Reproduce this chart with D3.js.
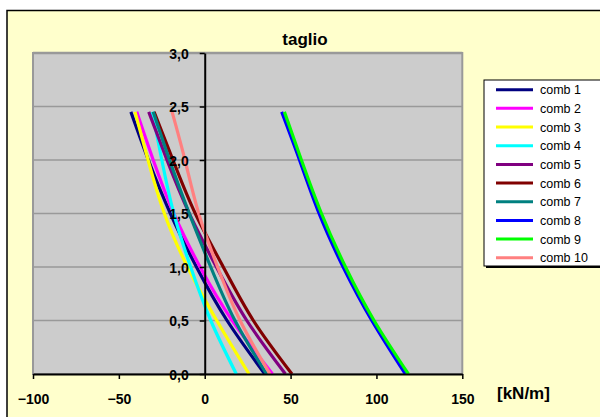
<!DOCTYPE html>
<html>
<head>
<meta charset="utf-8">
<script src="https://cdn.jsdelivr.net/npm/d3@7"></script>
<style>
  body { margin: 0; background: #fff; }
  svg { display: block; font-family: "Liberation Sans", Arial, sans-serif; }
</style>
</head>
<body>
<svg width="600" height="417"></svg>
<script>
// depth levels (m) and shear values (kN/m) per combination
const heights = [0, 0.5, 1.0, 1.5, 2.0, 2.45];
const comb1  = [35.0, 13.0, -4.8, -20.0, -32.8, -43.0];
const comb2  = [39.5, 16.0, -2.7, -18.0, -30.0, -39.6];
const comb3  = [25.8, 7.0, -10.0, -23.5, -33.0, -40.6];
const comb4  = [18.4, 3.5, -8.2, -18.0, -25.0, -30.5];
const comb5  = [47.0, 24.5, 6.8, -9.0, -22.0, -32.6];
const comb6  = [50.8, 28.3, 10.8, -5.5, -18.5, -29.5];
const comb7  = [36.0, 17.6, 3.5, -9.0, -20.5, -30.0];
const comb8  = [116.8, 97.3, 80.6, 66.6, 55.2, 44.8];
const comb9  = [118.6, 98.6, 82.0, 68.0, 56.3, 46.4];
const comb10 = [38.0, 20.6, 7.5, -3.5, -11.5, -19.0];

const seriesNames = ["comb 1", "comb 2", "comb 3", "comb 4", "comb 5",
                     "comb 6", "comb 7", "comb 8", "comb 9", "comb 10"];
const seriesValues = [comb1, comb2, comb3, comb4, comb5, comb6, comb7, comb8, comb9, comb10];
const seriesColors = ["#000080", "#ff00ff", "#ffff00", "#00ffff", "#800080",
                      "#800000", "#008080", "#0000ff", "#00ff00", "#ff8080"];

const xTicks = [-100, -50, 0, 50, 100, 150];
const yTicks = [0, 0.5, 1.0, 1.5, 2.0, 2.5, 3.0];

const plot = {left: 33, right: 462.3, top: 53, bottom: 374};

const svg = d3.select("svg");

// chart area
svg.append("rect")
    .attr("x", 7).attr("y", 10.5)
    .attr("width", 600).attr("height", 420)
    .attr("fill", "#ffffcc")
    .attr("stroke", "#000")
    .attr("stroke-width", 1.5);

const x = d3.scaleLinear().domain([-100, 150]).range([plot.left, plot.right]);
const y = d3.scaleLinear().domain([0, 3]).range([plot.bottom, plot.top]);

// plot area
svg.append("rect")
    .attr("x", plot.left).attr("y", plot.top)
    .attr("width", plot.right - plot.left)
    .attr("height", plot.bottom - plot.top)
    .attr("fill", "#cccccc")
    .attr("stroke", "#999")
    .attr("stroke-width", 2);

// gridlines
svg.append("g")
    .selectAll("line")
    .data(yTicks.filter(d => d > 0))
    .enter()
    .append("line")
    .attr("x1", plot.left).attr("x2", plot.right)
    .attr("y1", d => y(d)).attr("y2", d => y(d))
    .attr("stroke", "#999")
    .attr("stroke-width", d => d === 3 ? 2.5 : 1.5);

// title
svg.append("text")
    .attr("x", 305)
    .attr("y", 45)
    .attr("text-anchor", "middle")
    .attr("font-size", "17px")
    .attr("font-weight", "bold")
    .text("taglio");

// lines
const line = d3.line()
    .x(d => x(d[0]))
    .y(d => y(d[1]))
    .curve(d3.curveNatural);

seriesValues.forEach((vals, i) => {
    const pts = vals.map((v, j) => [v, heights[j]]);
    svg.append("path")
        .datum(pts)
        .attr("fill", "none")
        .attr("stroke", seriesColors[i])
        .attr("stroke-width", 3.2)
        .attr("d", line);
});

// y axis at x = 0
const yAxis = d3.axisLeft(y)
    .tickValues(yTicks)
    .tickSize(5)
    .tickSizeOuter(0)
    .tickPadding(11)
    .tickFormat(d => d3.format(".1f")(d).replace(".", ","));

const gy = svg.append("g")
    .attr("transform", `translate(${x(0)},0)`)
    .call(yAxis);
gy.select(".domain").attr("stroke", "#000").attr("stroke-width", 2);
gy.selectAll(".tick line").attr("stroke", "#000").attr("stroke-width", 1.5);
gy.selectAll("text")
    .attr("font-size", "14px")
    .attr("font-weight", "bold")
    .attr("font-family", "Liberation Sans, Arial, sans-serif")
    .attr("fill", "#000")
    .attr("dy", "0.38em");

// x axis at y = 0
const xAxis = d3.axisBottom(x)
    .tickValues(xTicks)
    .tickSize(5)
    .tickSizeOuter(0)
    .tickPadding(15)
    .tickFormat(d3.format("d"));

const gx = svg.append("g")
    .attr("transform", `translate(0,${y(0)})`)
    .call(xAxis);
gx.select(".domain").attr("stroke", "#000").attr("stroke-width", 2);
gx.selectAll(".tick line").attr("stroke", "#000").attr("stroke-width", 1.5);
gx.selectAll("text")
    .attr("font-size", "14px")
    .attr("font-weight", "bold")
    .attr("font-family", "Liberation Sans, Arial, sans-serif")
    .attr("fill", "#000");

// unit label
svg.append("text")
    .attr("x", 497)
    .attr("y", 399)
    .attr("font-size", "17px")
    .attr("font-weight", "bold")
    .text("[kN/m]");

// legend
const legend = svg.append("g");
legend.append("rect")
    .attr("x", 486).attr("y", 82)
    .attr("width", 130).attr("height", 186)
    .attr("fill", "#000");
legend.append("rect")
    .attr("x", 484).attr("y", 80)
    .attr("width", 130).attr("height", 186)
    .attr("fill", "#fff")
    .attr("stroke", "#000")
    .attr("stroke-width", 1);

seriesNames.forEach((name, i) => {
    const ly = 89.7 + i * 18.67;
    legend.append("line")
        .attr("x1", 496).attr("x2", 533)
        .attr("y1", ly).attr("y2", ly)
        .attr("stroke", seriesColors[i])
        .attr("stroke-width", 3);
    legend.append("text")
        .attr("x", 540)
        .attr("y", ly + 4.5)
        .attr("font-size", "12.5px")
        .text(name);
});
</script>
</body>
</html>
